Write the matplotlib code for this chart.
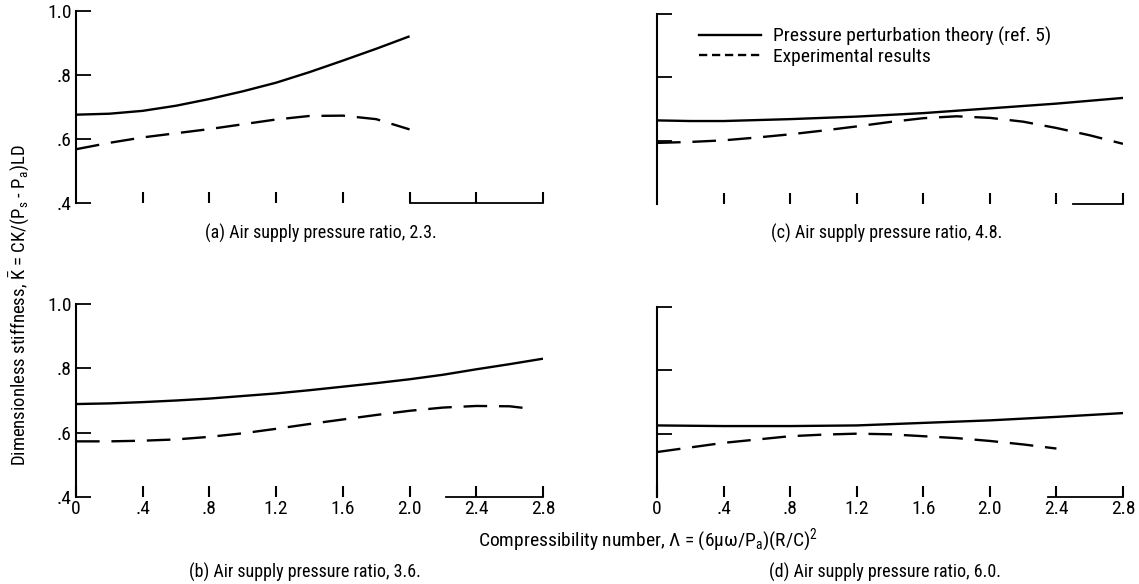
import matplotlib
matplotlib.use("Agg")
import matplotlib.pyplot as plt
from matplotlib import font_manager
from matplotlib.lines import Line2D

# pick a narrow face if one is installed, the scan uses a condensed type
FONT, STRETCH = "DejaVu Sans", "normal"
for f in font_manager.fontManager.ttflist:
    if f.name in ("Liberation Sans Narrow", "Roboto Condensed", "Open Sans Condensed"):
        FONT, STRETCH = f.name, "normal"
        break
else:
    for f in font_manager.fontManager.ttflist:
        if f.name in ("DejaVu Sans", "Open Sans", "Noto Sans", "Roboto") and "cond" in str(f.stretch).lower() \
                or (f.name in ("DejaVu Sans", "Open Sans", "Noto Sans", "Roboto") and isinstance(f.stretch, int) and f.stretch < 500):
            FONT, STRETCH = f.name, "condensed"
            break

plt.rcParams["font.family"] = [FONT, "DejaVu Sans"]
plt.rcParams["font.stretch"] = STRETCH
plt.rcParams["mathtext.fontset"] = "custom"
plt.rcParams["mathtext.rm"] = FONT
plt.rcParams["mathtext.it"] = FONT
plt.rcParams["mathtext.default"] = "regular"

# data
xa_th = [0, 0.2, 0.4, 0.6, 0.8, 1.0, 1.2, 1.4, 1.6, 1.8, 2.0]
ya_th = [0.676, 0.679, 0.688, 0.704, 0.725, 0.749, 0.776, 0.809, 0.845, 0.882, 0.921]
xa_ex = [0, 0.2, 0.4, 0.6, 0.8, 1.0, 1.2, 1.4, 1.6, 1.8, 2.0]
ya_ex = [0.568, 0.588, 0.605, 0.618, 0.631, 0.646, 0.661, 0.672, 0.673, 0.662, 0.630]

xb_th = [0, 0.2, 0.4, 0.6, 0.8, 1.0, 1.2, 1.4, 1.6, 1.8, 2.0, 2.2, 2.4, 2.6, 2.8]
yb_th = [0.689, 0.691, 0.695, 0.700, 0.706, 0.714, 0.722, 0.732, 0.743, 0.754,
         0.766, 0.780, 0.797, 0.813, 0.830]
xb_ex = [0, 0.2, 0.4, 0.6, 0.8, 1.0, 1.2, 1.4, 1.6, 1.8, 2.0, 2.2, 2.4, 2.6, 2.7]
yb_ex = [0.573, 0.573, 0.575, 0.579, 0.587, 0.598, 0.612, 0.627, 0.641, 0.655,
         0.668, 0.678, 0.683, 0.682, 0.676]

xc_th = [0, 0.2, 0.4, 0.8, 1.2, 1.6, 2.0, 2.4, 2.8]
yc_th = [0.664, 0.662, 0.662, 0.668, 0.676, 0.687, 0.702, 0.717, 0.735]
xc_ex = [0, 0.2, 0.4, 0.6, 0.8, 1.0, 1.2, 1.4, 1.6, 1.8, 2.0, 2.2, 2.4, 2.6, 2.8]
yc_ex = [0.593, 0.596, 0.601, 0.610, 0.620, 0.632, 0.645, 0.659, 0.671, 0.677,
         0.672, 0.660, 0.640, 0.617, 0.590]

xd_th = [0, 0.4, 0.8, 1.2, 1.6, 2.0, 2.4, 2.8]
yd_th = [0.626, 0.624, 0.624, 0.626, 0.634, 0.642, 0.653, 0.665]
xd_ex = [0, 0.4, 0.8, 1.0, 1.2, 1.4, 1.6, 1.8, 2.0, 2.2, 2.4]
yd_ex = [0.542, 0.571, 0.592, 0.597, 0.600, 0.598, 0.592, 0.586, 0.577, 0.566, 0.553]

xticks = [0, 0.4, 0.8, 1.2, 1.6, 2.0, 2.4, 2.8]
xticklabels = ["0", ".4", ".8", "1.2", "1.6", "2.0", "2.4", "2.8"]
yticks = [0.4, 0.6, 0.8, 1.0]
yticklabels = [".4", ".6", ".8", "1.0"]

captions = ["(a) Air supply pressure ratio, 2.3.",
            "(b) Air supply pressure ratio, 3.6.",
            "(c) Air supply pressure ratio, 4.8.",
            "(d) Air supply pressure ratio, 6.0."]

W, H = 1139, 584
fig = plt.figure(figsize=(W / 100, H / 100), dpi=100)

def box(l, t, r, b):
    return [l / W, 1 - b / H, (r - l) / W, (b - t) / H]

panels = [
    (box(76, 11, 543, 203), xa_th, ya_th, xa_ex, ya_ex, True, False, 2.0),
    (box(76, 304, 543, 497), xb_th, yb_th, xb_ex, yb_ex, True, True, 2.22),
    (box(657, 14, 1123, 204), xc_th, yc_th, xc_ex, yc_ex, False, False, 2.5),
    (box(657, 307, 1123, 497), xd_th, yd_th, xd_ex, yd_ex, False, True, 2.35),
]

axes = []
for rect, xt, yt, xe, ye, ylab, xlab, bstart in panels:
    ax = fig.add_axes(rect)
    ax.plot(xt, yt, color="black", lw=1.7, solid_capstyle="butt")
    ax.plot(xe, ye, color="black", lw=1.7, dashes=(10, 5))
    ax.set_xlim(0, 2.8)
    ax.set_ylim(0.4, 1.0)
    ax.spines["top"].set_visible(False)
    ax.spines["right"].set_visible(False)
    ax.spines["left"].set_linewidth(1.5)
    ax.spines["bottom"].set_linewidth(1.3)
    ax.spines["bottom"].set_bounds(bstart, 2.8)
    ax.set_xticks(xticks[1:])
    ax.set_yticks(yticks[1:])
    ax.tick_params(axis="x", direction="in", length=8, width=1.5, pad=6)
    ax.tick_params(axis="y", direction="in", length=11, width=1.3, pad=3)
    if xlab:
        ax.set_xticks(xticks)
        ax.set_xticklabels(xticklabels, fontsize=14)
        ax.tick_params(axis="x", pad=2)
    else:
        ax.set_xticklabels([])
    if ylab:
        ax.set_yticks(yticks)
        ax.set_yticklabels(yticklabels, fontsize=14)
    else:
        ax.set_yticklabels([])
    ax.patch.set_visible(False)
    axes.append(ax)

# legend in panel (c)
handles = [Line2D([], [], color="black", lw=1.7),
           Line2D([], [], color="black", lw=1.7, dashes=(3.5, 2))]
axes[2].legend(handles, ["Pressure perturbation theory (ref. 5)", "Experimental results"],
               loc="upper left", bbox_to_anchor=(0.052, 1.025), frameon=False,
               fontsize=14, handlelength=3.2, handletextpad=0.64, labelspacing=0.1)

# captions
fig.text((76 + 0.524 * 467) / W, 1 - 233 / H, captions[0], ha="center", va="center", fontsize=13)
fig.text((657 + 0.493 * 466) / W, 1 - 233 / H, captions[2], ha="center", va="center", fontsize=13)
fig.text((76 + 0.49 * 467) / W, 1 - 572 / H, captions[1], ha="center", va="center", fontsize=13)
fig.text((657 + 0.49 * 466) / W, 1 - 572 / H, captions[3], ha="center", va="center", fontsize=13)

fig.text(478 / W, 1 - 540 / H, "Compressibility number, Λ = (6μω/P$_a$)(R/C)$^2$",
         ha="left", va="center", fontsize=14)
fig.text(19 / W, 1 - 305 / H, r"Dimensionless stiffness, $\bar{K}$ = CK/(P$_s$ - P$_a$)LD",
         rotation=90, ha="center", va="center", fontsize=13.5)

fig.savefig("out.png", dpi=100)
